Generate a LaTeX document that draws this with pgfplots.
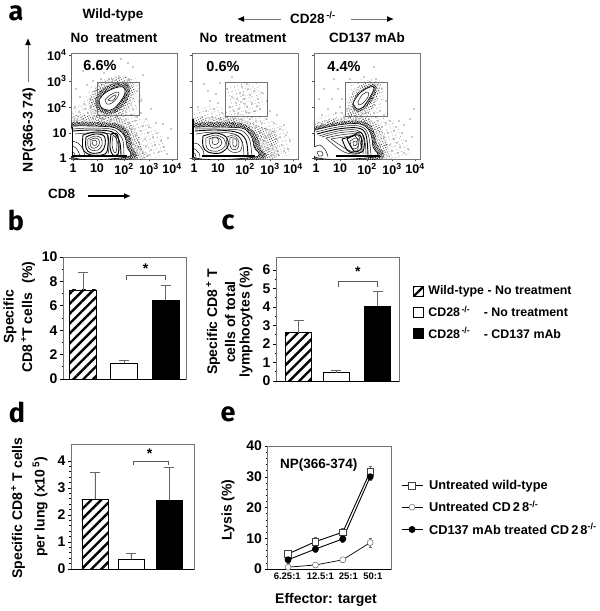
\documentclass[border=0pt]{standalone}
\usepackage{fontspec}
\setmainfont{Liberation Sans}
\newfontfamily\letterfont[BoldFont=* Bold]{Fira Sans}
\usepackage{pgfplots}
\pgfplotsset{compat=1.18}
\usetikzlibrary{patterns.meta,arrows.meta}
\newcommand\fs[1]{\fontsize{#1}{#1}\selectfont\bfseries}
\definecolor{fr}{gray}{0.45}
\tikzset{hatchbar/.style={draw=black,line width=.8pt,pattern={Lines[angle=45,distance=7pt,line width=2.4pt]}}}
% contour / stipple helpers (panel coordinates are channel units of the cytometer scale)
\newcommand\ct[1]{\addplot[smooth,tension=.6,black!90,line width=.5pt,no marks] coordinates {#1};}
\newcommand\ctb[1]{\addplot[smooth,tension=.6,black,line width=.9pt,no marks] coordinates {#1};}
\newcommand\wf[1]{\addplot[smooth,tension=.6,black,line width=.6pt,fill=white,no marks] coordinates {#1};}
% stippled density regions: sparse, medium, dense
\newcommand\sparse[1]{%
 \addplot[smooth,tension=.6,draw=none,no marks,pattern={Dots[radius=.3pt,distance=3.7pt,angle=17]},pattern color=black!80] coordinates {#1};
 \addplot[smooth,tension=.6,draw=none,no marks,pattern={Dots[radius=.28pt,distance=4.9pt,angle=58]},pattern color=black!70] coordinates {#1};}
\newcommand\medium[1]{%
 \addplot[smooth,tension=.6,draw=none,no marks,pattern={Dots[radius=.42pt,distance=2.3pt,angle=23]},pattern color=black!85] coordinates {#1};
 \addplot[smooth,tension=.6,draw=none,no marks,pattern={Dots[radius=.38pt,distance=2.9pt,angle=71]},pattern color=black!80] coordinates {#1};}
\newcommand\dense[1]{%
 \addplot[smooth,tension=.6,draw=none,no marks,pattern={Dots[radius=.55pt,distance=1.6pt,angle=31]},pattern color=black] coordinates {#1};
 \addplot[smooth,tension=.6,draw=none,no marks,pattern={Dots[radius=.5pt,distance=1.9pt,angle=64]},pattern color=black] coordinates {#1};}
\newcommand\pts[1]{\addplot[only marks,mark=*,mark size=.3pt,black!70] coordinates {#1};}
\pgfplotsset{
 flow/.style={scale only axis,width=106pt,height=106pt,anchor=south west,
  xmin=0,xmax=106,ymin=0,ymax=106,axis line style={fr,line width=.7pt},
  xtick={2,26,53,78,101},xticklabels={1,10,10\textsuperscript{2},10\textsuperscript{3},10\textsuperscript{4}},
  ytick={1,26,52,78,104},yticklabels={},
  tick style={black!70,line width=.5pt},tick align=outside,major tick length=2pt,
  xtick pos=bottom,ytick pos=left,
  tick label style={font=\fs{12.5}},xticklabel style={yshift=1pt},yticklabel style={xshift=1pt},
  clip=true},
 barax/.style={scale only axis,anchor=south west,ybar,bar shift=0pt,xtick=\empty,
  axis line style={fr,line width=.7pt},ytick pos=left,
  /pgf/number format/assume math mode=true,
  tick style={black,line width=.7pt},tick align=outside,major tick length=3pt,minor tick length=1.5pt,
  tick label style={font=\fs{14}},yticklabel style={xshift=1pt}},
 errs/.style={error bars/.cd,y dir=plus,y explicit,
  error bar style={black!60,line width=.8pt},error mark options={black!60,line width=.8pt,mark size=5pt,rotate=90}},
}
\begin{document}
\begin{tikzpicture}[x=1pt,y=1pt]
\path[use as bounding box] (0,0) rectangle (600,-611);

%% ---- panel a1
\begin{axis}[flow,at={(71pt,-159pt)},yticklabels={1,10,10\textsuperscript{2},10\textsuperscript{3},10\textsuperscript{4}}]
\pts{(60,4)(63,8)(66,5)(70,10)(72,6)(75,13)(78,4)(62,15)(68,17)(74,20)(80,9)(84,14)(88,7)(82,22)(90,18)(65,24)(70,28)(77,26)(60,30)(86,26)(58,36)(64,38)(72,33)(93,12)(96,5)(97,21)(55,40)(48,40)(40,39)(32,40)(22,41)(12,40)(6,38)(17,46)(8,47)(25,48)(13,55)(19,60)(9,62)(24,68)(16,74)(30,80)(38,80)(48,82)(58,79)(66,68)(70,58)(62,50)(70,46)(55,44)(45,42)(75,40)(85,36)(30,94)(50,100)(62,92)(72,84)(12,88)(5,70)(4,52)(80,50)(92,35)(100,30)(42,90)(57,96)(66,42)(78,32)(68,12)(59,20)(61,44)(24,54)(20,52)(14,50)(28,44)(36,44)(33,86)(22,78)}
\sparse{(12,56)(20,72)(34,82)(50,84)(66,80)(72,60)(64,44)(78,38)(90,22)(86,2)(0,0)(0,46)(12,56)}
\medium{(18,58)(27,74)(42,81)(58,81)(64,68)(58,50)(46,42)(30,40)(20,46)(18,58)}
\medium{(0,43)(24,44)(44,42)(58,37)(66,27)(70,12)(72,0)(0,0)(0,43)}
\dense{(24,60)(31,70)(44,76)(56,76)(59,66)(53,54)(44,46)(34,45)(26,50)(24,60)}
\dense{(0,37)(22,37)(42,36)(52,33)(59,24)(61,12)(62,0)(0,0)(0,37)}
\wf{(28,59)(34,66)(44,71)(52,72)(54,66)(49,57)(42,50)(36,49)(30,52)(28,59)}
\ct{(34,59)(39,64)(46,67)(48,66)(46,61)(41,56)(36,55)(34,59)}
\ct{(37,59)(42,63)(45,64)(44,61)(41,58)(37,59)}
\wf{(1,33)(20,33)(40,32)(48,29)(54,22)(56,12)(56,2)(1,2)(1,33)}
\ct{(2,30)(20,31)(40,30)(47,26)(52,18)(53,3)}
\ctb{(2,28)(20,29)(38,28)(45,24)(49,16)(50,3)}
\ct{(4,25)(16,26)(30,26)(42,24)(47,15)(47,3)}
\ctb{(12,24)(24,27)(36,25)(37,14)(34,5)(20,4)(12,10)(12,24)}
\ctb{(15,22)(24,25)(33,23)(34,14)(30,7)(20,6)(15,11)(15,22)}
\ct{(17,20)(24,23)(30,21)(31,14)(27,9)(20,9)(17,13)(17,20)}
\ct{(19,19)(24,21)(28,19)(28,14)(24,11)(20,12)(19,19)}
\ct{(21,18)(24,19)(26,17)(25,14)(22,14)(21,18)}
\ctb{(40,25)(46,25)(48,15)(47,5)(42,4)(39,12)(40,25)}
\ct{(42,23)(45,22)(46,14)(45,7)(43,7)(41,14)(42,23)}
\ct{(36,23)(38,14)(37,5)}
\ct{(1,18)(7,16)(12,10)(14,2)}
\ct{(1,13)(5,11)(8,6)(9,2)}
\ct{(1,7)(3,6)(5,2)}
\addplot[black,line width=1.6pt,no marks] coordinates {(1,3)(56,3)};
\addplot[black,line width=1.4pt,no marks] coordinates {(1.5,3)(1.5,32)};
\addplot[fr,line width=.6pt,no marks] coordinates {(26,77)(68,77)(68,44)(26,44)(26,77)};
\end{axis}

%% ---- panel a2
\begin{axis}[flow,at={(192pt,-159pt)}]
\pts{(35,70)(40,62)(44,56)(48,66)(52,60)(55,52)(58,64)(60,56)(63,48)(47,50)(42,48)(38,52)(66,60)(68,50)(70,66)(50,72)(56,70)(45,60)(53,55)(57,46)(62,68)(65,53)(49,57)(51,64)(46,45)(54,47)(60,42)(24,65)(18,58)(22,50)(14,48)(10,42)(6,52)(30,46)(34,42)(28,40)(20,42)(26,56)(16,68)(78,48)(74,40)(70,36)(82,36)(88,30)(94,24)(90,14)(86,8)(96,10)(84,20)(78,24)(72,18)(76,10)(70,6)(80,4)(64,32)(68,27)(74,30)(92,34)(98,18)(58,40)(50,40)(42,40)(36,38)(10,37)(64,38)(55,75)(40,82)(75,58)(85,44)(12,75)(28,76)(80,14)(74,22)(88,22)(82,28)(69,12)(92,8)}
\sparse{(36,72)(50,76)(68,74)(72,56)(64,46)(46,44)(36,50)(36,72)}
\sparse{(4,50)(20,54)(44,46)(66,42)(84,38)(96,28)(98,6)(90,2)(0,0)(4,50)}
\medium{(0,41)(24,42)(46,41)(62,35)(74,31)(84,26)(86,10)(80,0)(0,0)(0,41)}
\dense{(0,36)(25,37)(48,36)(59,30)(66,22)(68,12)(70,0)(0,0)(0,36)}
\wf{(1,32)(25,32)(49,31)(56,27)(60,21)(62,12)(63,2)(1,2)(1,32)}
\ct{(3,30)(25,30)(47,29)(54,25)(58,18)(60,3)}
\ctb{(3,28)(24,29)(44,27)(52,22)(55,15)(56,3)}
\ct{(4,25)(22,27)(42,25)(50,18)(52,3)}
\ctb{(11,23)(24,26)(34,22)(36,13)(28,6)(16,7)(11,13)(11,23)}
\ct{(14,21)(24,24)(32,20)(33,13)(26,8)(17,9)(14,14)(14,21)}
\ct{(17,20)(24,22)(29,19)(29,14)(24,11)(19,12)(17,20)}
\ct{(20,21)(25,21)(27,18)(25,15)(21,15)(20,21)}
\ct{(35,22)(44,24)(50,17)(48,8)(40,7)(35,12)(35,22)}
\ct{(38,21)(44,22)(47,16)(45,10)(40,10)(38,14)(38,21)}
\ct{(41,20)(44,20)(45,15)(43,12)(41,14)(41,20)}
\ct{(1,16)(6,15)(11,9)(12,2)}
\ct{(1,11)(4,9)(7,6)(8,2)}
\ct{(1,6)(3,5)(4,2)}
\addplot[black,line width=1.6pt,no marks] coordinates {(10,3)(63,3)};
\addplot[black,line width=1.4pt,no marks] coordinates {(.8,2)(.8,40)};
\addplot[fr,line width=.6pt,no marks] coordinates {(33,77)(75,77)(75,43)(33,43)(33,77)};
\end{axis}

%% ---- panel a3
\begin{axis}[flow,at={(314pt,-159pt)}]
\pts{(28,60)(26,52)(22,46)(30,42)(36,42)(42,40)(20,38)(14,37)(8,35)(24,70)(18,60)(14,50)(8,44)(5,60)(60,46)(66,48)(70,44)(76,38)(82,32)(88,26)(92,18)(86,12)(80,20)(74,26)(68,32)(64,38)(78,8)(72,14)(84,6)(94,10)(98,22)(70,22)(76,14)(66,14)(90,34)(55,40)(48,42)(36,80)(50,82)(62,80)(72,58)(100,50)(96,40)(33,50)(28,46)(52,46)(68,70)(20,80)(60,92)(40,97)(10,70)(85,38)(62,42)(72,36)(80,28)(83,16)(69,8)(90,6)}
\sparse{(30,44)(32,64)(42,78)(58,80)(70,76)(68,54)(58,42)(40,42)(30,44)}
\sparse{(0,42)(24,46)(46,48)(66,42)(82,34)(92,16)(88,2)(0,0)(0,42)}
\medium{(33,44)(36,62)(46,74)(58,78)(66,74)(62,56)(52,44)(40,42)(33,44)}
\medium{(0,36)(24,41)(46,42)(62,36)(70,24)(74,8)(72,0)(0,0)(0,36)}
\dense{(38,52)(42,64)(52,72)(60,75)(63,70)(58,58)(50,50)(44,47)(38,52)}
\dense{(0,32)(24,37)(46,38)(58,32)(63,16)(66,0)(0,0)(0,32)}
\wf{(39,56)(46,66)(56,72)(60,71)(56,62)(49,52)(43,50)(39,56)}
\ct{(44,57)(48,64)(54,67)(54,62)(49,56)(45,54)(44,57)}
\wf{(1,29)(24,34)(46,35)(56,27)(59,12)(60,2)(1,2)(1,29)}
\ct{(2,27)(24,32)(45,33)(54,25)(57,3)}
\ctb{(3,25)(24,30)(44,31)(52,24)(54,3)}
\ct{(5,23)(24,28)(42,29)(50,22)(52,5)}
\ct{(8,22)(24,26)(42,27)(48,20)(49,5)}
\ct{(12,21)(26,24)(42,25)(46,18)(46,6)(30,7)(12,21)}
\ct{(17,20)(30,22)(41,23)(44,17)(43,8)(34,9)(17,20)}
\ctb{(28,20)(38,23)(46,27)(50,20)(49,8)(40,6)(33,9)(28,20)}
\ctb{(33,20)(42,24)(47,22)(47,10)(40,8)(33,20)}
\ct{(36,18)(42,21)(45,18)(43,11)(38,11)(36,18)}
\ct{(39,17)(42,18)(43,15)(40,13)(39,17)}
\ct{(1,12)(6,14)(12,8)(14,2)}
\ct{(3,7)(7,8)(9,4)(5,3)(3,7)}
\addplot[black,line width=1.6pt,no marks] coordinates {(22,3)(66,3)};
\addplot[black!80,line width=1pt,no marks] coordinates {(.8,12)(.8,26)};
\addplot[fr,line width=.6pt,no marks] coordinates {(31,77)(73,77)(73,43)(31,43)(31,77)};
\end{axis}

%% ---- panel b
\begin{axis}[barax,at={(63pt,-379pt)},width=123pt,height=122pt,xmin=-0.485,xmax=2.497,ymin=0,ymax=10,
  ytick={0,2,...,10},minor y tick num=1,bar width=27pt]
\addplot[hatchbar,errs] coordinates {(0,7.3) +- (0,1.4)};
\addplot[draw=black,fill=white,line width=.8pt,errs] coordinates {(1,1.3) +- (0,0.2)};
\addplot[draw=black,fill=black,errs] coordinates {(2,6.5) +- (0,1.2)};
\addplot[sharp plot,black!65,line width=.7pt,no marks] coordinates {(1.05,8.1)(1.05,8.5)(1.99,8.5)(1.99,8.1)};
\node[font=\fs{14}] at (axis cs:1.52,9.05) {*};
\draw[black,line width=.8pt] (rel axis cs:0,0)--(rel axis cs:1,0);
\end{axis}

%% ---- panel c
\begin{axis}[barax,at={(276pt,-381pt)},width=123pt,height=124pt,xmin=-0.57,xmax=2.54,ymin=0,ymax=6.7,
  ytick={0,...,6},minor y tick num=1,bar width=26pt,
  legend style={at={(axis description cs:1.11,0.785)},anchor=north west,draw=none,fill=none,
     font=\fs{12.4},row sep=5.5pt,inner sep=0pt},
  legend cell align=left,
  legend image code/.code={\draw[#1,line width=.7pt] (0pt,-5pt) rectangle (10pt,5pt);}]
\addplot[hatchbar,errs] coordinates {(0,2.6) +- (0,0.7)};
\addlegendentry{\hspace*{3pt}Wild-type - No treatment}
\addplot[draw=black,fill=white,line width=.8pt,errs] coordinates {(0.95,0.45) +- (0,0.1)};
\addlegendentry{\hspace*{3pt}CD28\textsuperscript{\,-/-}\hspace{1.1em}- No treatment}
\addplot[draw=black,fill=black,errs] coordinates {(2,4.05) +- (0,0.78)};
\addlegendentry{\hspace*{3pt}CD28\textsuperscript{\,-/-}\hspace{1.1em}- CD137 mAb}
\addplot[sharp plot,black!65,line width=.7pt,no marks,forget plot] coordinates {(1.0,5.1)(1.0,5.4)(1.99,5.4)(1.99,5.1)};
\node[font=\fs{14}] at (axis cs:1.5,5.9) {*};
\draw[black,line width=.8pt] (rel axis cs:0,0)--(rel axis cs:1,0);
\end{axis}

%% ---- panel d
\begin{axis}[barax,at={(71pt,-569pt)},width=123pt,height=125pt,xmin=-0.644,xmax=2.66,ymin=0,ymax=4.63,
  ytick={0,...,4},minor y tick num=4,bar width=26pt]
\addplot[hatchbar,errs] coordinates {(0,2.58) +- (0,1.0)};
\addplot[draw=black,fill=white,line width=.8pt,errs] coordinates {(0.966,0.37) +- (0,0.21)};
\addplot[draw=black,fill=black,errs] coordinates {(2,2.55) +- (0,1.2)};
\addplot[sharp plot,black!65,line width=.7pt,no marks] coordinates {(1.02,3.85)(1.02,4.0)(1.97,4.0)(1.97,3.85)};
\node[font=\fs{14}] at (axis cs:1.47,4.27) {*};
\draw[black,line width=.8pt] (rel axis cs:0,0)--(rel axis cs:1,0);
\end{axis}

%% ---- panel e
\begin{axis}[scale only axis,anchor=south west,at={(267pt,-569pt)},width=124pt,height=123pt,
  xmin=-0.77,xmax=3.76,ymin=0,ymax=40,
  xtick={-0.03,1.18,2.2,3.1},xticklabels={6.25:1,12.5:1,25:1,50:1},
  ytick={0,10,20,30,40},minor y tick num=4,
  /pgf/number format/assume math mode=true,
  axis line style={fr,line width=.7pt},xtick pos=bottom,ytick pos=left,
  tick style={black,line width=.5pt},tick align=outside,major tick length=2.5pt,minor tick length=1.2pt,
  xtick style={draw=none},
  yticklabel style={font=\fs{14},xshift=1pt},xticklabel style={font=\fs{9.5},yshift=2pt},
  legend style={at={(axis description cs:1.08,0.74)},anchor=north west,draw=none,fill=none,
     font=\fs{12.8},row sep=6pt,inner sep=0pt},
  legend cell align=left,
  legend image code/.code={\draw[#1,mark repeat=2,mark phase=2] plot coordinates {(0pt,0pt)(10.5pt,0pt)(21pt,0pt)};},
  error bars/error bar style={black!60,line width=.7pt},
  ]
\addplot[black,line width=.9pt,mark=square*,mark size=3.3pt,mark options={fill=white,draw=black!75,line width=.6pt},
  error bars/.cd,y dir=both,y explicit,error mark options={black!60,mark size=1.5pt,rotate=90}]
 coordinates {(0,4.9)+-(0,1.3)(1,8.9)+-(0,1.4)(2,12)+-(0,1.2)(3,31.7)+-(0,1.6)};
\addlegendentry{\hspace*{4pt}Untreated wild-type}
\addplot[black,line width=.7pt,mark=*,mark size=3pt,mark options={fill=white,draw=black!60,line width=.5pt},
  error bars/.cd,y dir=both,y explicit,error mark options={black!60,mark size=1.5pt,rotate=90}]
 coordinates {(0,0.6)+-(0,0.5)(1,1.3)+-(0,0.6)(2,3)+-(0,0.8)(3,8.6)+-(0,1.5)};
\addlegendentry{\hspace*{4pt}Untreated CD\,2\,8\textsuperscript{-/-}}
\addplot[black,line width=.9pt,mark=*,mark size=3pt,mark options={fill=black},
  error bars/.cd,y dir=both,y explicit,error mark options={black!60,mark size=1.5pt,rotate=90}]
 coordinates {(0,3)+-(0,1.0)(1,6.5)+-(0,1.0)(2,9.8)+-(0,1.0)(3,30)+-(0,1.2)};
\addlegendentry{\hspace*{4pt}CD137 mAb treated CD\,2\,8\textsuperscript{-/-}}
\node[font=\fs{13.5},anchor=west] at (axis cs:-0.42,33.8) {NP(366-374)};
\draw[black,line width=.8pt] (rel axis cs:0,0)--(rel axis cs:1,0);
\end{axis}

%% ---- text
\tikzset{tx/.style={font=\fs{13.5},inner sep=0pt},lab/.style={font=\fs{14},inner sep=0pt,rotate=90}}
\node[font=\letterfont\bfseries\fontsize{27}{27}\selectfont,inner sep=0pt] at (16,-13) {a};
\node[font=\letterfont\bfseries\fontsize{27}{27}\selectfont,inner sep=0pt] at (16,-220) {b};
\node[font=\letterfont\bfseries\fontsize{27}{27}\selectfont,inner sep=0pt] at (228,-222) {c};
\node[font=\letterfont\bfseries\fontsize{27}{27}\selectfont,inner sep=0pt] at (17,-412) {d};
\node[font=\letterfont\bfseries\fontsize{27}{27}\selectfont,inner sep=0pt] at (228,-414) {e};
\node[tx] at (113,-15) {Wild-type};
\node[tx] at (114,-38) {No\hspace{.25em} treatment};
\node[tx] at (243,-38) {No\hspace{.25em} treatment};
\node[tx] at (367,-38) {CD137 mAb};
\node[tx,anchor=west] at (290,-18) {CD28\textsuperscript{\,-/-}};
\node[tx,font=\fs{14.5}] at (100,-66) {6.6\%};
\node[tx,font=\fs{14.5}] at (223,-67) {0.6\%};
\node[tx,font=\fs{14.5}] at (344,-67) {4.4\%};
\node[lab] at (29,-130) {NP(366-3 74)};
\node[tx,anchor=west] at (48,-194) {CD8};
\tikzset{gar/.style={-{Latex[length=7pt,width=6pt,black]},black!55,line width=1pt}}
\draw[gar] (281,-19)--(237,-19);
\draw[gar] (351,-19)--(394,-19);
\draw[gar] (28,-82)--(28,-38);
\draw[gar,black,line width=1.3pt] (88,-196)--(131,-196);
\node[lab] at (10,-317) {Specific};
\node[lab] at (28,-317) {CD8\textsuperscript{\,+}T cells\hspace{.4em} (\%)};
\node[lab] at (213,-322) {Specific CD8\textsuperscript{\,+} T};
\node[lab] at (230,-322) {cells of total};
\node[lab] at (246,-322) {lymphocytes (\%)};
\node[lab] at (18,-508) {Specific CD8\textsuperscript{\,+} T cells};
\node[lab] at (40,-507) {per lung (x10\textsuperscript{\,5})};
\node[lab] at (228,-510) {Lysis (\%)};
\node[tx,font=\fs{14}] at (326,-600) {Effector: target};
\end{tikzpicture}
\end{document}
